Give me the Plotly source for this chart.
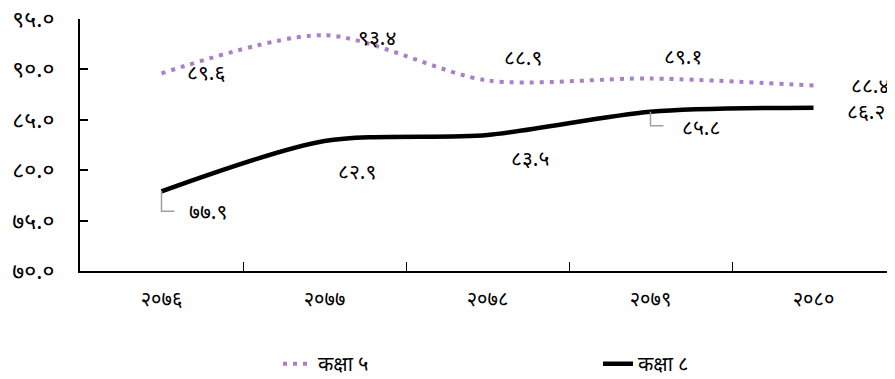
import plotly.graph_objects as go

categories = ["२०७६", "२०७७", "२०७८", "२०७९", "२०८०"]
grade5 = [89.6, 93.4, 88.9, 89.1, 88.4]
grade8 = [77.9, 82.9, 83.5, 85.8, 86.2]
grade5_labels = ["८९.६", "९३.४", "८८.९", "८९.१", "८८.४"]
grade8_labels = ["७७.९", "८२.९", "८३.५", "८५.८", "८६.२"]
ytick_vals = [70, 75, 80, 85, 90, 95]
ytick_text = ["७०.०", "७५.०", "८०.०", "८५.०", "९०.०", "९५.०"]
series_names = ["कक्षा ५", "कक्षा ८"]

PURPLE = "#a97fc9"
FONT = "Noto Sans, DejaVu Sans, sans-serif"
LBL = 21

fig = go.Figure()
fig.add_trace(go.Scatter(x=categories, y=grade5, name=series_names[0], mode="lines",
                         line=dict(color=PURPLE, width=4, dash="4px,6px", shape="spline", smoothing=0.8)))
fig.add_trace(go.Scatter(x=categories, y=grade8, name=series_names[1], mode="lines",
                         line=dict(color="black", width=4.5, shape="spline", smoothing=0.8)))

# label offsets (pixels)
g5_off = [(44, 1), (52, -2), (35, 23), (32, 22), (56, 1)]
g8_off = [(46, -20), (32, -30), (42, -23), (50, -15), (52, -3)]

for i, c in enumerate(categories):
    dx, dy = g5_off[i]
    fig.add_annotation(x=c, y=grade5[i], text=grade5_labels[i], showarrow=False,
                       xshift=dx, yshift=dy, font=dict(size=LBL, color="black", family=FONT))
    dx, dy = g8_off[i]
    fig.add_annotation(x=c, y=grade8[i], text=grade8_labels[i], showarrow=False,
                       xshift=dx, yshift=dy, font=dict(size=LBL, color="black", family=FONT))

# leader lines (elbow) for 2076 and 2079 of grade 8
for i, w, h in [(0, 13, 20), (3, 13, 14)]:
    fig.add_shape(type="path", xref="x", yref="y", xsizemode="pixel", ysizemode="pixel",
                  xanchor=categories[i], yanchor=grade8[i],
                  path=f"M 0 0 L 0 {-h} L {w} {-h}",
                  line=dict(color="#a0a0a0", width=1.5))

fig.update_layout(
    width=887, height=371,
    margin=dict(l=72, r=0, t=11, b=108, autoexpand=False),
    paper_bgcolor="white", plot_bgcolor="white",
    font=dict(family=FONT, size=20, color="black"),
    showlegend=True,
    legend=dict(orientation="h", x=(270 - 72) / 815, xanchor="left", y=-0.445, yanchor="bottom",
                font=dict(size=20), tracegroupgap=0, entrywidth=275, entrywidthmode="pixels",
                borderwidth=0),
    xaxis=dict(showline=True, linecolor="black", linewidth=2, ticks="inside", ticklen=9,
               tickcolor="black", tickwidth=1, tickson="boundaries", range=[-0.5, 4.5],
               showgrid=False, zeroline=False, ticklabelstandoff=9, automargin=False,
               tickfont=dict(size=20)),
    yaxis=dict(range=[70, 95], tickvals=ytick_vals, ticktext=ytick_text,
               showline=True, linecolor="black", linewidth=2, ticks="inside", ticklen=8,
               tickcolor="black", tickwidth=1.5, showgrid=False, zeroline=False, automargin=False,
               ticklabelstandoff=19, tickfont=dict(size=23), ticklabeloverflow="allow"),
)

fig.write_html("out.html")
